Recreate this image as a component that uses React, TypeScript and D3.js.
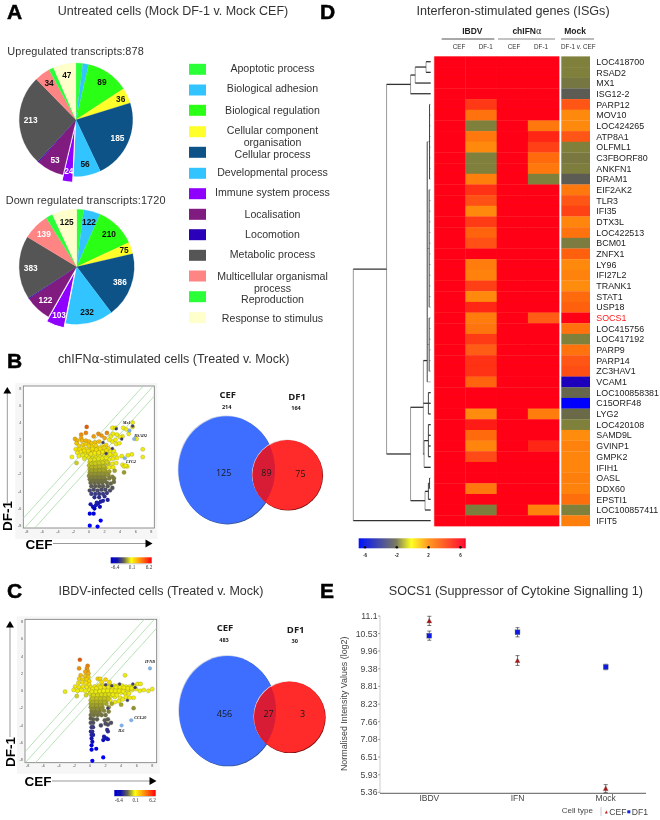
import React from "react";
import * as d3 from "d3";

// ---------- Panel A data ----------
const goTerms = ["Apoptotic process","Biological adhesion","Biological regulation","Cellular component organisation","Cellular process","Developmental process","Immune system process","Localisation","Locomotion","Metabolic process","Multicellular organismal process","Reproduction","Response to stimulus"];
const goColors = ["#2bff38","#33c4ff","#2bff12","#ffff2a","#0d5287","#33c4ff","#8f00ff","#801a80","#2a00b8","#555555","#ff8585","#2bff38","#ffffcc"];
const upLabels = ["","","89","36","185","56","24","53","","213","34","","47"];
const upSpanDegrees = [7,6,44,16,82,28,11,28,1,93.5,16,5,23.5];
const upWhiteLabels = ["185","24","53","213"];
const downLabels = ["","122","210","75","386","232","103","122","","383","139","","125"];
const downSpanDegrees = [7,17,41,12,66,48,18.5,26.5,1,64,27,7,25];
const downWhiteTerms = [4,6,7,9,10];

// ---------- Panels B, C scatter data ----------
const scatterBPoints: number[][] = [
[-0.3,3.5],[-0.4,2.8],[-1.0,2.6],[-1.0,2.2],[-1.8,2.1],[-1.5,1.9],[-1.6,1.6],[-0.9,1.9],[-0.4,1.9],[0.0,1.8],[0.3,1.6],[0.8,1.7],[1.3,1.8],[-1.3,1.3],[-0.8,1.4],[-0.4,1.5],[0.0,1.3],[0.4,1.2],[0.9,1.3],[-1.7,0.9],[-1.2,0.9],[-0.7,1.0],[-0.3,0.9],[0.2,0.8],[0.7,0.9],[1.2,1.0],[1.7,1.2],[2.2,1.4],[-1.5,0.5],[-1.0,0.6],[-0.5,0.5],[0.0,0.5],[0.5,0.5],[1.0,0.6],[1.5,0.7],[2.0,0.8],[2.5,1.0],[-2.2,0.0],[-1.3,0.1],[-0.8,0.2],[-0.3,0.1],[0.2,0.2],[0.7,0.2],[1.2,0.3],[1.7,0.4],[2.2,0.5],[2.7,0.6],[3.2,0.7],[-1.6,-0.7],[-0.6,-0.2],[0.0,-0.1],[0.4,-0.2],[0.9,-0.1],[1.4,0.0],[1.9,0.0],[2.4,0.1],[2.9,0.2],[3.4,0.3],[0.1,-0.6],[0.6,-0.5],[1.1,-0.5],[1.6,-0.4],[2.1,-0.4],[2.6,-0.3],[3.1,-0.2],[3.6,-0.1],[4.2,0.1],[0.0,-1.0],[0.5,-1.0],[1.0,-0.9],[1.5,-0.9],[2.0,-0.9],[2.5,-0.8],[3.0,-0.8],[3.5,-0.7],[4.3,-0.9],[4.9,-1.1],[4.5,-1.1],[0.1,-1.4],[0.6,-1.4],[1.1,-1.4],[1.6,-1.3],[2.1,-1.3],[2.6,-1.2],[3.1,-1.2],[0.1,-1.8],[0.6,-1.8],[1.1,-1.8],[1.6,-1.8],[2.1,-1.7],[2.6,-1.7],[3.3,-1.6],[4.5,-1.8],[0.0,-2.2],[0.5,-2.2],[1.0,-2.2],[1.5,-2.2],[2.0,-2.2],[2.5,-2.1],[3.0,-2.3],[0.1,-2.6],[0.6,-2.6],[1.1,-2.6],[1.6,-2.6],[2.1,-2.6],[2.6,-2.5],[3.2,-2.5],[0.2,-3.0],[0.7,-3.0],[1.2,-3.0],[1.7,-3.0],[2.3,-3.0],[2.8,-3.1],[3.2,-2.9],[0.3,-3.4],[0.8,-3.4],[1.3,-3.4],[1.8,-3.4],[2.4,-3.4],[0.1,-3.9],[0.6,-3.8],[1.1,-3.9],[1.6,-3.8],[2.1,-3.8],[2.7,-3.9],[3.0,-3.6],[0.3,-4.3],[0.8,-4.3],[1.3,-4.3],[1.8,-4.3],[2.3,-4.2],[0.7,-4.7],[1.3,-4.7],[2.0,-4.6],[0.2,-5.5],[0.5,-5.8],[0.9,-5.6],[1.2,-5.4],[1.4,-5.8],[0.7,-6.0],[1.8,-5.1],[2.4,-5.0],[1.5,-5.2],[1.0,-5.3],[0.1,-6.6],[0.6,-6.6],[1.5,-7.4],[0.1,-8.0],[1.1,-8.1],
[3.0,1.8],[3.4,2.0],[2.8,2.4],[3.1,2.7],[3.6,2.6],[2.3,2.8],[3.0,3.4],[3.4,3.4],[4.4,3.4],[4.8,3.2],[5.6,3.5],[5.6,4.0],[4.3,2.4],[4.0,2.3],[3.5,1.5],[3.9,1.6],[2.6,2.0],[2.0,2.2],[1.6,2.5],[1.2,2.7],[0.6,2.4],[5.1,2.7],[6.1,2.1],[6.9,0.9],[6.9,0.0],[5.5,0.3],[5.0,0.2],[4.7,-1.0],
[-0.6,0.75],[-0.1,0.7],[0.45,0.95],[0.95,0.85],[1.45,0.95],[1.95,1.05],[0.25,0.35],[0.75,0.45],[1.25,0.5],[1.75,0.6],[2.25,0.75],[0.2,-0.35],[0.7,-0.3],[1.2,-0.2],[1.7,-0.15],[2.2,-0.1],[2.7,0.3],[0.3,-0.8],[0.8,-0.75],[1.3,-0.7],[1.8,-0.65],[2.3,-0.6],[0.35,-1.2],[0.85,-1.2],[1.35,-1.15],[1.85,-1.1],[0.35,-1.6],[0.85,-1.6],[1.35,-1.55],[1.85,-1.5],[0.3,-2.0],[0.8,-2.0],[1.3,-2.0],[1.8,-2.0],[2.3,-2.0],[0.35,-2.4],[0.85,-2.4],[1.35,-2.4],[1.85,-2.4],[0.45,-2.8],[0.95,-2.8],[1.45,-2.8],[1.95,-2.8]
];
const scatterBDarkPoints: number[][] = [[3.0,1.0],[3.5,3.3],[4.2,2.1],[1.8,1.7],[2.2,0.4],[5.6,3.6]];
const scatterBHighlights = [[5.2,3.07],[5.8,2.1],[4.6,-0.15]];
const scatterBGenes = ["Mx1","RSAD2","LYG2"];

const scatterCPoints: number[][] = [
[-1.3,3.6],[-1.4,2.6],[-0.3,2.9],[-0.4,2.6],[-0.3,2.3],[-0.6,2.2],[-0.2,2.0],[-1.2,1.8],[-0.6,1.7],[-0.2,1.6],[-1.4,1.4],[-0.9,1.3],[-0.4,1.3],[-0.1,1.1],[-1.0,1.0],[-0.5,0.9],[-1.5,0.9],[-0.1,0.7],[-1.9,0.5],[-1.4,0.4],[-0.9,0.5],[-0.4,0.4],[0.1,0.4],[0.6,0.5],[1.1,0.6],[1.6,0.6],[2.1,0.6],[2.6,0.6],[3.1,0.6],[3.6,0.6],[4.1,0.6],[4.6,0.5],[5.1,0.5],[5.6,0.6],[6.1,0.8],[6.5,0.8],[1.0,1.4],[1.3,1.4],[2.0,1.3],[2.5,1.0],[1.5,1.0],[4.5,1.8],[-3.2,-0.1],[-2.1,0.1],[-1.6,0.0],[-1.1,0.1],[-0.6,0.0],[-0.1,0.1],[0.4,0.1],[0.9,0.1],[1.4,0.2],[1.9,0.2],[2.4,0.2],[2.9,0.2],[3.4,0.2],[3.9,0.2],[4.4,0.1],[4.9,0.1],[5.4,0.1],[5.9,0.2],[6.4,0.0],[6.9,0.1],[7.5,0.0],[8.0,0.2],[-1.7,-0.6],[-0.5,-0.5],[0.0,-0.3],[0.5,-0.3],[1.0,-0.3],[1.5,-0.2],[2.0,-0.2],[2.5,-0.2],[3.0,-0.2],[3.5,-0.2],[4.0,-0.2],[4.5,-0.3],[5.0,-0.3],[0.2,-0.7],[0.7,-0.7],[1.2,-0.7],[1.7,-0.7],[2.2,-0.7],[2.7,-0.6],[3.2,-0.7],[4.6,-0.7],[5.1,-0.8],[5.6,-0.8],[3.9,-0.8],[0.1,-1.1],[0.6,-1.1],[1.1,-1.1],[1.6,-1.1],[2.1,-1.1],[2.6,-1.1],[3.2,-1.3],[3.7,-1.2],[4.2,-1.0],[0.1,-1.5],[0.6,-1.5],[1.1,-1.5],[1.6,-1.5],[2.1,-1.5],[2.8,-1.5],[0.1,-1.9],[0.6,-1.9],[1.1,-1.9],[1.6,-1.9],[2.4,-1.9],[5.6,-2.0],[4.0,-1.6],[0.2,-2.3],[0.7,-2.3],[1.2,-2.3],[1.8,-2.3],[2.4,-2.4],[0.1,-2.8],[0.5,-2.8],[1.0,-2.8],[1.5,-2.8],[2.0,-2.8],[0.1,-3.2],[0.4,-3.3],[0.9,-3.3],[1.9,-3.4],[2.3,-3.3],[0.1,-3.7],[0.4,-3.7],[1.4,-4.0],[2.0,-3.8],[2.3,-3.9],[2.7,-3.7],[0.2,-4.2],[0.4,-4.2],[2.2,-4.5],[2.3,-4.7],[0.1,-4.7],[0.3,-4.7],[1.8,-5.3],[2.1,-5.5],[1.7,-5.7],[2.3,-5.6],[0.2,-5.1],[0.4,-5.1],[0.2,-5.5],[0.3,-5.9],[0.2,-6.3],[0.2,-6.8],[0.8,-6.7],[1.7,-7.7],[0.3,-8.1],
[0.35,0.25],[0.85,0.3],[1.35,0.4],[1.85,0.4],[2.35,0.4],[2.85,0.4],[3.35,0.4],[3.85,0.4],[4.35,0.35],[4.85,0.3],[5.35,0.3],[0.25,-0.1],[0.75,-0.1],[1.25,-0.05],[1.75,0.0],[2.25,0.0],[2.75,0.0],[3.25,0.0],[3.75,0.0],[4.25,-0.05],[0.45,-0.5],[0.95,-0.5],[1.45,-0.45],[1.95,-0.45],[2.45,-0.4],[2.95,-0.45],[3.45,-0.5],[0.35,-0.9],[0.85,-0.9],[1.35,-0.9],[1.85,-0.9],[2.35,-0.9],[0.35,-1.3],[0.85,-1.3],[1.35,-1.3],[1.85,-1.3],[0.35,-1.7],[0.85,-1.7],[1.35,-1.7],[0.4,-2.1],[0.95,-2.1],[1.5,-2.1],[0.25,-2.55],[0.75,-2.55],[1.25,-2.55]
];
const scatterCDarkPoints: number[][] = [[2.0,0.7],[3.8,0.8],[5.5,0.8],[5.8,0.4],[2.3,-2.0],[4.8,-1.1],[2.8,0.6]];
const scatterCHighlights = [[7.7,2.6],[5.3,-3.4],[4.06,-4.0]];
const scatterCGenes = ["IFNB","CCL20","IL6"];
const greenLineOffsets = [-1.3,0,1.3];
const axisTicks = [-8,-6,-4,-2,0,2,4,6,8];

// ---------- Venn data ----------
const vennBCounts = ["125","89","75"];
const vennBTotals = ["214","164"];
const vennCCounts = ["456","27","3"];
const vennCTotals = ["483","30"];

// ---------- Panel D data ----------
const genes = ["LOC418700","RSAD2","MX1","ISG12-2","PARP12","MOV10","LOC424265","ATP8A1","OLFML1","C3FBORF80","ANKFN1","DRAM1","EIF2AK2","TLR3","IFI35","DTX3L","LOC422513","BCM01","ZNFX1","LY96","IFI27L2","TRANK1","STAT1","USP18","SOCS1","LOC415756","LOC417192","PARP9","PARP14","ZC3HAV1","VCAM1","LOC100858381","C15ORF48","LYG2","LOC420108","SAMD9L","GVINP1","GMPK2","IFIH1","OASL","DDX60","EPSTI1","LOC100857411","IFIT5"];
const ibdvDf1 = [6,6,6,6,4.5,2.8,-1.2,2.6,2.1,-1.2,-1.2,2.4,4.7,3.8,2.1,4.4,3.2,3.8,6,2.5,2.3,4.3,2.1,5,2.5,2.7,4.4,3.5,4.7,4.7,3.2,6,6,2,5.3,3,2.2,4,6,6,2.6,6,-1.3,6];
const ifnDf1 = [6,6,6,6,6,6,2.6,5,4.3,3,2.6,-1.2,6,6,6,6,6,6,6,6,6,6,6,6,3.5,6,6,6,6,6,6,6,6,2.5,6,6,5,6,6,6,6,6,2.3,6];
const mockDf1VCef = [-1.2,-1.2,-1.6,-2.6,3.6,2.1,2.1,3.7,-1.2,-1.5,-1.3,-2.6,2.6,3.6,4.2,2.2,2.8,-1.4,3.3,2.1,2.3,2,3,3.3,6,2.8,-1.2,2.8,3.6,3.9,-5.2,-2.2,-6.5,-2,-1.2,2,2.3,2.2,2.2,2.4,2.3,2.9,-1.2,2.4];
const fullyUpValue = 6;
const heatTicks = [-6,-2,2,6];

type Node = { h: number; c: (Node | number)[]; at?: number };
const rows = (a: number, b: number) => d3.range(a, b + 1);
const dendrogram: Node = { h: 1, c: [
  { h: 0.57, c: [
    { h: 0.26, c: [{ h: 0.2, c: [{ h: 0.06, c: [0, 1] }, 2] }, 3] },
    { h: 0.26, c: [
      { h: 0.095, c: [
        { h: 0.045, at: 28, c: [{ h: 0.015, c: rows(4, 11) }, { h: 0.02, c: rows(12, 23) }, { h: 0.02, c: rows(24, 29) }, 30] },
        { h: 0.03, c: [31, 32, 33] },
        { h: 0.085, c: [{ h: 0.03, c: rows(34, 37) }, 38] },
      ] },
      { h: 0.073, c: [{ h: 0.03, c: [{ h: 0.015, c: [39, 40] }, 41] }, 42] },
    ] },
  ] },
  43,
] };

// ---------- Panel E data ----------
const socsCategories = ["IBDV","IFN","Mock"];
const socsCef = [10.94,9.65,5.48];
const socsDf1 = [10.46,10.57,9.44];
const socsCefErr = [0.15,0.16,0.13];
const socsDf1Err = [0.15,0.15,0.09];
const socsTicks = ["11.1","10.53","9.96","9.38","8.81","8.23","7.66","7.08","6.51","5.93","5.36"];

const SANS = "'Liberation Sans', Arial, sans-serif";
const VENNF = "'Open Sans', sans-serif";

const heatColor = d3.scaleLinear<string>()
  .domain([-6.5,-5,-2.6,-1.2,0.2,2,4,6])
  .range(["#0000ff","#2000b0","#5c5c55","#80803c","#ffff20","#ff8c10","#ff4a12","#ff0012"]);
const scatterColor = d3.scaleLinear<string>()
  .domain([-6.2,-4.6,-3,-1.5,0,1.2,2.4,3.5])
  .range(["#0000cc","#30308a","#66664e","#a8a828","#eeee10","#f4d800","#f09a10","#e65a10"]);

function Pie({ cx, cy, r, spans, labels, burst, isWhite }: any) {
  const slices = d3.pie<number>().sort(null).value(d => d)(spans);
  const arc = d3.arc<any>().innerRadius(0).outerRadius(r);
  return <g>{slices.map((s, i) => {
    const mid = (s.startAngle + s.endAngle) / 2;
    const off = i === 6 ? burst : 0;
    const tx = cx + Math.sin(mid) * off, ty = cy - Math.cos(mid) * off;
    return <path key={i} d={arc(s) as string} transform={`translate(${tx},${ty})`} fill={goColors[i]}
      stroke={i === 6 ? "#fff" : goColors[i]} strokeWidth={i === 6 ? 1 : 0.2} />;
  })}
  {slices.map((s, i) => {
    if (!labels[i]) return null;
    const mid = (s.startAngle + s.endAngle) / 2;
    const off = i === 6 ? burst : 0;
    const rad = r * (i === 3 ? 0.87 : 0.8) + off;
    return <text key={i} x={cx + Math.sin(mid) * rad} y={cy - Math.cos(mid) * rad + 3} textAnchor="middle"
      fontFamily={SANS} fontWeight="700" fontSize={8.3} fill={isWhite(i, labels[i]) ? "#fff" : "#111"}>{labels[i]}</text>;
  })}</g>;
}

function Scatter({ id, frame, sx, sy, points, dark, highlights, genes: names, geneAt }: any) {
  const [fx0, fy0, fx1, fy1] = frame;
  const x = d3.scaleLinear().domain([-8, 8]).range(sx);
  const y = d3.scaleLinear().domain([-8, 8]).range(sy);
  const tone = (p: number[]) => (p[0] > 2.5 && p[1] > -1.5 ? 0.15 : p[1]);
  return <g>
    <defs><clipPath id={id}><rect x={fx0} y={fy0} width={fx1 - fx0} height={fy1 - fy0} /></clipPath></defs>
    <rect x={fx0 - 8} y={fy0 - 3} width={fx1 - fx0 + 11} height={fy1 - fy0 + 14} fill="#f6f6f6" />
    <rect x={fx0} y={fy0} width={fx1 - fx0} height={fy1 - fy0} fill="#fff" stroke="#777" strokeWidth={0.8} />
    <g clipPath={`url(#${id})`}>
      {greenLineOffsets.map(c => <line key={c} x1={x(-10)} y1={y(-10 + c)} x2={x(10)} y2={y(10 + c)} stroke="#a6dba6" strokeWidth={0.8} />)}
    </g>
    {axisTicks.map(t => <text key={"x" + t} x={x(t)} y={fy1 + 4.5} fontSize={3.8} textAnchor="middle" fill="#555" fontFamily={SANS}>{t}</text>)}
    {axisTicks.map(t => <text key={"y" + t} x={fx0 - 2} y={y(t) + 1.3} fontSize={3.8} textAnchor="end" fill="#555" fontFamily={SANS}>{t}</text>)}
    {points.map((p: number[], i: number) => <circle key={i} cx={x(p[0])} cy={y(p[1])} r={2.1} fill={scatterColor(tone(p))} stroke="#6d6d2a" strokeOpacity={p[1] < -4 ? 0 : 0.7} strokeWidth={0.35} />)}
    {dark.map((p: number[], i: number) => <circle key={i} cx={x(p[0])} cy={y(p[1])} r={1.5} fill="#3a3a70" stroke="#555" strokeWidth={0.3} />)}
    {highlights.map((p: number[], i: number) => <circle key={i} cx={x(p[0])} cy={y(p[1])} r={1.8} fill="#7fb2ea" stroke="#6f8fb5" strokeWidth={0.3} />)}
    {names.map((n: string, i: number) => <text key={n} x={geneAt[i][0]} y={geneAt[i][1]} textAnchor="middle" fontFamily="'Liberation Serif', serif" fontStyle="italic" fontWeight="700" fontSize={4.2} fill="#222">{n}</text>)}
  </g>;
}

function Arrows({ vx, vTop, vBottom, dfY, cefX, cefY, hLeft, hRight }: any) {
  return <g>
    <line x1={vx} y1={vTop + 6} x2={vx} y2={vBottom} stroke="#999" strokeWidth={1} />
    <path d={`M${vx - 4},${vTop + 6.5} L${vx},${vTop} L${vx + 4},${vTop + 6.5} Z`} fill="#000" />
    <text transform={`translate(${vx + 4.5},${dfY}) rotate(-90)`} textAnchor="middle" fontFamily={SANS} fontWeight="700" fontSize={13.5}>DF-1</text>
    <text x={cefX} y={cefY + 5} textAnchor="middle" fontFamily={SANS} fontWeight="700" fontSize={13.5}>CEF</text>
    <line x1={hLeft} y1={cefY} x2={hRight - 6} y2={cefY} stroke="#999" strokeWidth={1} />
    <path d={`M${hRight - 7},${cefY - 4} L${hRight},${cefY} L${hRight - 7},${cefY + 4} Z`} fill="#000" />
  </g>;
}

function ColorBar({ x0, y0, w, h, id, labels }: any) {
  return <g>
    <rect x={x0} y={y0} width={w} height={h} fill={`url(#${id})`} />
    <line x1={x0} y1={y0 + h + 0.5} x2={x0 + w} y2={y0 + h + 0.5} stroke="#999" strokeWidth={0.5} />
    {labels.map((l: string, i: number) => <text key={l} x={x0 + 4.5 + i * 16.9} y={y0 + h + 6} fontFamily="'Liberation Serif', serif" fontSize={5.2} textAnchor="middle" fill="#333">{l}</text>)}
  </g>;
}

function Venn({ id, blue, red, counts, totals, headX, headY }: any) {
  const [bx, by, brx, bry] = blue;
  const [rx, ry, rr] = red;
  return <g>
    <defs><clipPath id={id}><ellipse cx={bx} cy={by} rx={brx} ry={bry} /></clipPath></defs>
    <ellipse cx={bx - 0.7} cy={by - 0.7} rx={brx} ry={bry} fill="#c3cfe6" />
    <ellipse cx={bx + 0.7} cy={by + 0.7} rx={brx} ry={bry} fill="#37568f" />
    <ellipse cx={bx} cy={by} rx={brx} ry={bry} fill="#3d6eff" />
    <circle cx={rx - 0.6} cy={ry - 0.6} r={rr} fill="#e8d0d0" />
    <circle cx={rx + 0.6} cy={ry + 0.6} r={rr} fill="#7a1010" />
    <circle cx={rx} cy={ry} r={rr} fill="#ff2b2b" />
    <circle cx={rx} cy={ry} r={rr} fill="#d81c36" clipPath={`url(#${id})`} />
    <g fontFamily={VENNF} fill="#1a1a1a" textAnchor="middle">
      <text x={headX[0]} y={headY[0] + 3.5} fontWeight="700" fontSize={9.5}>CEF</text>
      <text x={headX[0] - 1} y={headY[0] + 14} fontWeight="700" fontSize={5.6}>{totals[0]}</text>
      <text x={headX[1]} y={headY[1] + 3.5} fontWeight="700" fontSize={9.5}>DF1</text>
      <text x={headX[1] - 1} y={headY[1] + 14} fontWeight="700" fontSize={5.6}>{totals[1]}</text>
      <text x={bx - 3} y={by + 6} fontSize={9}>{counts[0]}</text>
      <text x={rx - 21} y={by + 6} fontSize={9}>{counts[1]}</text>
      <text x={rx + 13} y={by + 6.5} fontSize={9}>{counts[2]}</text>
    </g>
  </g>;
}

function Dendro() {
  const rowY = d3.scaleLinear().domain([0, 43]).range([61.7, 520.7]);
  const hx = d3.scaleLinear().domain([0, 1]).range([430.7, 353.3]);
  const segs: any[] = [];
  const walk = (n: Node | number): number => {
    if (typeof n === "number") return rowY(n);
    const ys = n.c.map(walk);
    const tipXs = n.c.map(c => (typeof c === "number" ? hx(0) : hx((c as Node).h)));
    const x = hx(n.h);
    const thick = n.h > 0.05 || n.h === 0.03;
    segs.push({ x1: x, y1: ys[0], x2: x, y2: ys[ys.length - 1], w: n.h < 0.05 ? 1 : 0.6, s: n.h < 0.05 ? "#444" : "#555" });
    ys.forEach((y, i) => segs.push({ x1: x, y1: y, x2: tipXs[i], y2: y, w: thick ? 1.3 : 0.4, s: "#333" }));
    return n.at !== undefined ? rowY(n.at) : (ys[0] + ys[ys.length - 1]) / 2;
  };
  walk(dendrogram);
  return <g>{segs.map((s, i) => <line key={i} x1={s.x1} y1={s.y1} x2={s.x2} y2={s.y2} stroke={s.s} strokeWidth={s.w} />)}</g>;
}

function Heatmap() {
  const y = d3.scaleBand<number>().domain(d3.range(genes.length)).range([56.4, 526]);
  const x = d3.scaleBand<number>().domain([0, 1, 2, 3]).range([434.3, 559]);
  const cols = [genes.map(() => fullyUpValue), ibdvDf1, genes.map(() => fullyUpValue), ifnDf1];
  return <g>
    {cols.map((col, c) => col.map((v, r) => <rect key={c + "-" + r} x={x(c)} y={y(r)} width={x.bandwidth() + 0.3} height={y.bandwidth() + 0.3} fill={heatColor(v)} />))}
    {mockDf1VCef.map((v, r) => <rect key={r} x={561.3} y={y(r)} width={28.7} height={y.bandwidth() + 0.2} fill={heatColor(v)} />)}
    {genes.map((g, r) => <text key={g} x={596.3} y={(y(r) as number) + y.bandwidth() / 2 + 3.2} fontSize={8.9} fontFamily={SANS} fill={g === "SOCS1" ? "#ff1a1a" : "#222"}>{g}</text>)}
  </g>;
}

function Socs() {
  const y = d3.scaleLinear().domain([5.36, 11.1]).range([792.3, 616]);
  const x = d3.scalePoint<string>().domain(socsCategories).range([429.3, 605.7]);
  const gray = "#444";
  return <g fontFamily={SANS}>
    <line x1={380} y1={616} x2={380} y2={793.3} stroke="#999" strokeWidth={0.5} />
    <line x1={380} y1={793.3} x2={646} y2={793.3} stroke="#333" strokeWidth={0.8} />
    {socsTicks.map(t => <g key={t}>
      <line x1={378} x2={380} y1={y(+t)} y2={y(+t)} stroke="#555" strokeWidth={0.5} />
      <text x={377.5} y={y(+t) + 3} textAnchor="end" fontSize={8.7} fill={gray}>{t}</text>
    </g>)}
    {socsCategories.map((c, i) => {
      const cx = x(c) as number;
      const cefY = y(socsCef[i]), dfY = y(socsDf1[i]);
      return <g key={c}>
        <text x={cx} y={801} textAnchor="middle" fontSize={8.5} fill={gray}>{c}</text>
        {[[socsCef[i], socsCefErr[i]], [socsDf1[i], socsDf1Err[i]]].map(([v, e], j) => <g key={j} stroke="#222" strokeWidth={0.6}>
          <line x1={cx} x2={cx} y1={y(v + e)} y2={y(v - e)} />
          <line x1={cx - 2} x2={cx + 2} y1={y(v + e)} y2={y(v + e)} />
          <line x1={cx - 2} x2={cx + 2} y1={y(v - e)} y2={y(v - e)} />
        </g>)}
        <path d={`M${cx - 2.6},${cefY + 2.2} L${cx},${cefY - 2.8} L${cx + 2.6},${cefY + 2.2} Z`} fill="#a51616" stroke="#8a8a8a" strokeWidth={0.3} />
        <rect x={cx - 2.5} y={dfY - 2.5} width={5} height={5} fill="#0a1ee0" stroke="#888" strokeWidth={0.4} />
      </g>;
    })}
    <text transform="translate(346.5,703.8) rotate(-90)" textAnchor="middle" fontSize={8.9} fill={gray}>Normalised Intensity Values (log2)</text>
    <text x={577.3} y={813.2} textAnchor="middle" fontSize={8} fill={gray}>Cell type</text>
    <line x1={601} x2={601} y1={807} y2={816} stroke="#aaa" strokeWidth={0.6} />
    <path d="M604.8,813.5 L606.3,810.5 L607.8,813.5 Z" fill="#c02020" />
    <text x={609.3} y={815} fontSize={8.6} fill={gray}>CEF</text>
    <rect x={627.3} y={810.3} width={3} height={3} fill="#1020e0" />
    <text x={631.7} y={815} fontSize={8.6} fill={gray}>DF1</text>
  </g>;
}

export default function App() {
  const legendY = [69.3, 90, 110.3, 131.7, 152.3, 173.3, 193.7, 214.3, 234.7, 255.3, 276, 296.7, 317.7];
  const legendText: [string, number][][] = [
    [["Apoptotic process", 68.5]], [["Biological adhesion", 88.5]], [["Biological regulation", 110.5]],
    [["Cellular component", 130.5], ["organisation", 142.5]], [["Cellular process", 154.5]],
    [["Developmental process", 172]], [["Immune system process", 192]], [["Localisation", 214]],
    [["Locomotion", 234]], [["Metabolic process", 254]], [["Multicellular organismal", 276], ["process", 288]],
    [["Reproduction", 299.5]], [["Response to stimulus", 318.5]],
  ];
  const panelTitle = (s: React.ReactNode, cx: number, cy: number, size = 12.5) =>
    <text x={cx} y={cy + size * 0.36} textAnchor="middle" fontFamily={SANS} fontSize={size} fill="#333">{s}</text>;
  const panelLetter = (s: string, x: number, y: number) =>
    <text x={x} y={y} fontFamily={SANS} fontWeight="700" fontSize={21} stroke="#000" strokeWidth={0.5} fill="#000">{s}</text>;
  return (
    <svg width={660} height={820} viewBox="0 0 660 820" style={{ position: "absolute", left: 0, top: 0, background: "#fff" }}>
      <defs>
        {["barB", "barC"].map(id => <linearGradient key={id} id={id} x1="0" x2="1" y1="0" y2="0">
          <stop offset="0" stopColor="#0000d0" /><stop offset="0.15" stopColor="#1010b0" /><stop offset="0.32" stopColor="#666650" />
          <stop offset="0.5" stopColor="#ffff10" /><stop offset="0.72" stopColor="#ff9010" /><stop offset="1" stopColor="#ff0010" />
        </linearGradient>)}
        <linearGradient id="barD" x1="0" x2="1" y1="0" y2="0">
          <stop offset="0" stopColor="#0010ff" /><stop offset="0.35" stopColor="#7a7a60" /><stop offset="0.49" stopColor="#ffff20" />
          <stop offset="0.65" stopColor="#ff9a20" /><stop offset="0.985" stopColor="#ff1030" /><stop offset="1" stopColor="#c01020" />
        </linearGradient>
        <filter id="soft" x="0" y="0" width="100%" height="100%"><feGaussianBlur stdDeviation="0.3" /></filter>
      </defs>

      <g filter="url(#soft)">
      {panelLetter("A", 7, 19)}
      {panelLetter("B", 7, 368)}
      {panelLetter("C", 7, 598)}
      {panelLetter("D", 320, 19)}
      {panelLetter("E", 320, 598)}

      {/* Panel A */}
      {panelTitle("Untreated cells (Mock DF-1 v. Mock CEF)", 173, 10)}
      <text x={7.3} y={55.3} fontFamily={SANS} fontSize={10.9} fill="#333" letterSpacing={0.1}>Upregulated transcripts:878</text>
      <text x={5.7} y={204.3} fontFamily={SANS} fontSize={10.9} fill="#333" letterSpacing={0.1}>Down regulated transcripts:1720</text>
      <Pie cx={76} cy={119.7} r={56.7} spans={upSpanDegrees} labels={upLabels} burst={6} isWhite={(_: number, l: string) => upWhiteLabels.includes(l)} />
      <Pie cx={76.7} cy={266.7} r={57.5} spans={downSpanDegrees} labels={downLabels} burst={5} isWhite={(i: number) => downWhiteTerms.includes(i)} />
      {goTerms.map((t, i) => <g key={t}>
        <rect x={189} y={legendY[i] - 5.5} width={17} height={11} fill={goColors[i]} />
        {legendText[i].map(([s, yy]) => <text key={s} x={272.5} y={yy + 3.5} textAnchor="middle" fontFamily={SANS} fontSize={10.6} fill="#333">{s}</text>)}
      </g>)}

      {/* Panel B */}
      {panelTitle(<>chIFN<tspan fontFamily="'DejaVu Sans'">α</tspan>-stimulated cells (Treated v. Mock)</>, 173.7, 358)}
      <Scatter id="clipB" frame={[23.3, 386, 154.3, 528]} sx={[26.7, 151.3]} sy={[525.7, 388.3]}
        points={scatterBPoints} dark={scatterBDarkPoints} highlights={scatterBHighlights}
        genes={scatterBGenes} geneAt={[[126.7, 423.5], [140.7, 436.5], [131, 463]]} />
      <Arrows vx={7.3} vTop={387} vBottom={503} dfY={516} cefX={39} cefY={543.5} hLeft={53} hRight={152.5} />
      <ColorBar x0={110.7} y0={557.3} w={41} h={6} id="barB" labels={["-6.4", "0.1", "6.2"]} />
      <Venn id="vennB" blue={[226.7, 470, 48.3, 53.7]} red={[287.5, 475, 35]} counts={vennBCounts} totals={vennBTotals} headX={[227.7, 297]} headY={[394.5, 396]} />

      {/* Panel C */}
      {panelTitle("IBDV-infected cells (Treated v. Mock)", 161, 590)}
      <Scatter id="clipC" frame={[25, 619.3, 156.7, 762.7]} sx={[27.7, 152.3]} sy={[760, 621.7]}
        points={scatterCPoints} dark={scatterCDarkPoints} highlights={scatterCHighlights}
        genes={scatterCGenes} geneAt={[[150, 663], [140.3, 719], [121.3, 732]]} />
      <Arrows vx={10} vTop={621} vBottom={737} dfY={752} cefX={38} cefY={781} hLeft={52} hRight={156.5} />
      <ColorBar x0={114.3} y0={790} w={41.4} h={6} id="barC" labels={["-6.4", "0.1", "6.2"]} />
      <Venn id="vennC" blue={[227.5, 710.8, 48.5, 54.8]} red={[289.6, 717, 35.5]} counts={vennCCounts} totals={vennCTotals} headX={[225, 295.7]} headY={[627.7, 629]} />

      {/* Panel D */}
      {panelTitle("Interferon-stimulated genes (ISGs)", 513, 10, 12.6)}
      <g fontFamily={SANS} fontWeight="700" fontSize={8.5} fill="#222" textAnchor="middle">
        <text x={472.3} y={34}>IBDV</text>
        <text x={527} y={34}>chIFN<tspan fontFamily="'DejaVu Sans'" fontWeight="400">α</tspan></text>
        <text x={575} y={34}>Mock</text>
      </g>
      <line x1={441.7} x2={494.3} y1={39} y2={39} stroke="#222" strokeWidth={0.8} />
      <line x1={498} x2={555} y1={39} y2={39} stroke="#888" strokeWidth={1.1} />
      <line x1={561} x2={594} y1={39} y2={39} stroke="#555" strokeWidth={0.8} />
      <g fontFamily={SANS} fontSize={6.3} fill="#333" textAnchor="middle">
        <text x={459} y={48.5}>CEF</text><text x={485.7} y={48.5}>DF-1</text>
        <text x={514} y={48.5}>CEF</text><text x={541} y={48.5}>DF-1</text>
        <text x={578.3} y={48.5}>DF-1 v. CEF</text>
      </g>
      <rect x={433.7} y={56} width={125.8} height={470.4} fill="#ffb0b0" opacity={0.6} />
      <Heatmap />
      <Dendro />
      <rect x={358.7} y={538.3} width={107} height={10} fill="url(#barD)" />
      {heatTicks.map((t, i) => <g key={t}>
        <circle cx={365 + i * 31.8} cy={547.3} r={1.3} fill="#111" />
        <text x={365 + i * 31.8} y={556.5} fontFamily={SANS} fontWeight="700" fontSize={4.5} textAnchor="middle" fill="#222">{t}</text>
      </g>)}

      {/* Panel E */}
      {panelTitle("SOCS1 (Suppressor of Cytokine Signalling 1)", 515.8, 590, 12.6)}
      <Socs />
      </g>
    </svg>
  );
}
